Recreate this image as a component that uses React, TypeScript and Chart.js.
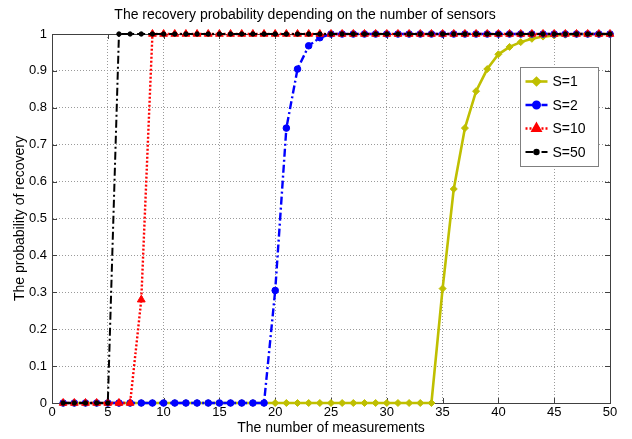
import React, { useEffect, useRef } from 'react';
import { Chart, registerables } from 'chart.js';
import { drawPoint } from 'chart.js/helpers';

Chart.register(...registerables);

const chartTitle = 'The recovery probability depending on the number of sensors';
const xTitle = 'The number of measurements';
const yTitle = 'The probability of recovery';

const measurements = [
  1, 2, 3, 4, 5, 6, 7, 8, 9, 10,
  11, 12, 13, 14, 15, 16, 17, 18, 19, 20,
  21, 22, 23, 24, 25, 26, 27, 28, 29, 30,
  31, 32, 33, 34, 35, 36, 37, 38, 39, 40,
  41, 42, 43, 44, 45, 46, 47, 48, 49, 50,
];

const s1Values = [
  0, 0, 0, 0, 0, 0, 0, 0, 0, 0,
  0, 0, 0, 0, 0, 0, 0, 0, 0, 0,
  0, 0, 0, 0, 0, 0, 0, 0, 0, 0,
  0, 0, 0, 0, 0.31, 0.58, 0.745, 0.845, 0.905, 0.945,
  0.965, 0.978, 0.987, 0.993, 0.996, 0.998, 1, 1, 1, 1,
];

const s2Values = [
  0, 0, 0, 0, 0, 0, 0, 0, 0, 0,
  0, 0, 0, 0, 0, 0, 0, 0, 0, 0.305,
  0.745, 0.905, 0.968, 0.99, 1, 1, 1, 1, 1, 1,
  1, 1, 1, 1, 1, 1, 1, 1, 1, 1,
  1, 1, 1, 1, 1, 1, 1, 1, 1, 1,
];

const s10Values = [
  0, 0, 0, 0, 0, 0, 0, 0.28, 1, 1,
  1, 1, 1, 1, 1, 1, 1, 1, 1, 1,
  1, 1, 1, 1, 1, 1, 1, 1, 1, 1,
  1, 1, 1, 1, 1, 1, 1, 1, 1, 1,
  1, 1, 1, 1, 1, 1, 1, 1, 1, 1,
];

const s50Values = [
  0, 0, 0, 0, 0, 1, 1, 1, 1, 1,
  1, 1, 1, 1, 1, 1, 1, 1, 1, 1,
  1, 1, 1, 1, 1, 1, 1, 1, 1, 1,
  1, 1, 1, 1, 1, 1, 1, 1, 1, 1,
  1, 1, 1, 1, 1, 1, 1, 1, 1, 1,
];

const seriesLabels = ['S=1', 'S=2', 'S=10', 'S=50'];
const xTicks = [0, 5, 10, 15, 20, 25, 30, 35, 40, 45, 50];
const yTicks = [0, 0.1, 0.2, 0.3, 0.4, 0.5, 0.6, 0.7, 0.8, 0.9, 1];

const FONT = "'Liberation Sans', Arial, Helvetica, sans-serif";

type Style = {
  color: string;
  width: number;
  dash: number[];
  pointStyle: string;
  radius: number;
};

const styles: Style[] = [
  { color: '#bfbf00', width: 2.6, dash: [], pointStyle: 'rectRot', radius: 3.5 },
  { color: '#0000ff', width: 2.4, dash: [8, 3, 2, 3], pointStyle: 'circle', radius: 3.3 },
  { color: '#ff0000', width: 2.4, dash: [2, 2], pointStyle: 'triangle', radius: 4.5 },
  { color: '#000000', width: 2, dash: [8, 3, 2, 3], pointStyle: 'circle', radius: 2.2 },
];

const seriesValues = [s1Values, s2Values, s10Values, s50Values];

const framePlugin = {
  id: 'frameAndLegend',
  beforeDatasetsDraw(chart: any) {
    const { ctx, chartArea } = chart;
    const { left, right, top, bottom } = chartArea;
    const xs = chart.scales.x;
    const ys = chart.scales.y;
    ctx.save();
    ctx.strokeStyle = '#404040';
    ctx.lineWidth = 1;
    ctx.setLineDash([]);
    ctx.strokeRect(Math.round(left) + 0.5, Math.round(top) + 0.5, Math.round(right - left), Math.round(bottom - top));
    const tl = 5;
    ctx.beginPath();
    for (const v of xTicks) {
      const px = Math.round(xs.getPixelForValue(v)) + 0.5;
      ctx.moveTo(px, bottom);
      ctx.lineTo(px, bottom - tl);
      ctx.moveTo(px, top);
      ctx.lineTo(px, top + tl);
    }
    for (const v of yTicks) {
      const py = Math.round(ys.getPixelForValue(v)) + 0.5;
      ctx.moveTo(left, py);
      ctx.lineTo(left + tl, py);
      ctx.moveTo(right, py);
      ctx.lineTo(right - tl, py);
    }
    ctx.stroke();
    ctx.restore();
  },
  afterDraw(chart: any) {
    const { ctx, chartArea } = chart;
    const boxW = 78;
    const boxH = 99;
    const bx = Math.round(chartArea.right - 12 - boxW) + 0.5;
    const by = Math.round(chartArea.top + 33) + 0.5;
    ctx.save();
    ctx.fillStyle = '#ffffff';
    ctx.fillRect(bx, by, boxW, boxH);
    ctx.strokeStyle = '#7f7f7f';
    ctx.lineWidth = 1;
    ctx.setLineDash([]);
    ctx.strokeRect(bx, by, boxW, boxH);
    ctx.font = `14px ${FONT}`;
    ctx.textBaseline = 'middle';
    ctx.textAlign = 'left';
    seriesLabels.forEach((label, i) => {
      const st = styles[i];
      const cy = by + 14 + i * 23.5;
      const x0 = bx + 5;
      const x1 = bx + 27;
      ctx.strokeStyle = st.color;
      ctx.lineWidth = st.width;
      ctx.setLineDash(st.dash);
      ctx.beginPath();
      ctx.moveTo(x0, cy);
      ctx.lineTo(x1, cy);
      ctx.stroke();
      ctx.setLineDash([]);
      ctx.fillStyle = st.color;
      drawPoint(ctx, {
        pointStyle: st.pointStyle,
        radius: st.radius,
        rotation: 0,
        borderWidth: 1,
      } as any, (x0 + x1) / 2, cy);
      ctx.fillStyle = '#000000';
      ctx.fillText(label, bx + 32, cy + 1);
    });
    ctx.restore();
  },
};

export default function App() {
  const canvasRef = useRef<HTMLCanvasElement | null>(null);

  useEffect(() => {
    const canvas = canvasRef.current;
    if (!canvas) return;
    Chart.defaults.font.family = FONT;
    Chart.defaults.color = '#000000';

    const order = [4, 3, 2, 1];
    const datasets = seriesLabels.map((label, i) => {
      const st = styles[i];
      return {
        label,
        data: measurements.map((m, j) => ({ x: m, y: seriesValues[i][j] })),
        borderColor: st.color,
        backgroundColor: st.color,
        borderWidth: st.width,
        borderDash: st.dash,
        pointStyle: st.pointStyle,
        pointRadius: st.radius,
        pointBorderWidth: 1,
        pointBorderColor: st.color,
        pointBackgroundColor: st.color,
        tension: 0,
        clip: false,
        order: order[i],
      };
    });

    const chart = new Chart(canvas, {
      type: 'line',
      data: { datasets: datasets as any },
      options: {
        responsive: false,
        animation: false,
        events: [],
        layout: { padding: { left: 0, right: 22, top: 0, bottom: 0 } },
        plugins: {
          legend: { display: false },
          tooltip: { enabled: false },
          title: {
            display: true,
            text: chartTitle,
            color: '#000000',
            font: { family: FONT, size: 14, weight: 'normal' },
            padding: { top: 7, bottom: 10.2 },
          },
        },
        scales: {
          x: {
            type: 'linear',
            min: 0,
            max: 50,
            afterBuildTicks: (scale: any) => {
              scale.ticks = xTicks.map((v) => ({ value: v }));
            },
            afterFit: (scale: any) => {
              scale.height = 36;
            },
            ticks: {
              autoSkip: false,
              maxRotation: 0,
              padding: 2,
              color: '#000000',
              font: { family: FONT, size: 13 },
              callback: (v: any) => String(v),
            },
            grid: {
              color: '#9a9a9a',
              lineWidth: 1,
              drawTicks: false,
            },
            border: { display: true, color: '#404040', width: 1, dash: [1, 2] },
            title: {
              display: true,
              text: xTitle,
              color: '#000000',
              font: { family: FONT, size: 14 },
              padding: { top: 0, bottom: 2.5 },
            },
          },
          y: {
            type: 'linear',
            min: 0,
            max: 1,
            afterBuildTicks: (scale: any) => {
              scale.ticks = yTicks.map((v) => ({ value: v }));
            },
            afterFit: (scale: any) => {
              scale.width = 52;
            },
            ticks: {
              autoSkip: false,
              padding: 5,
              color: '#000000',
              font: { family: FONT, size: 13 },
              callback: (v: any) => String(v),
            },
            grid: {
              color: '#9a9a9a',
              lineWidth: 1,
              drawTicks: false,
            },
            border: { display: true, color: '#404040', width: 1, dash: [1, 2] },
            title: {
              display: true,
              text: yTitle,
              color: '#000000',
              font: { family: FONT, size: 14 },
              padding: { top: 11.5, bottom: 0 },
            },
          },
        },
      },
      plugins: [framePlugin],
    });

    return () => {
      chart.destroy();
    };
  }, []);

  return (
    <div style={{ position: 'fixed', left: 0, top: 0, width: 632, height: 439, background: '#ffffff' }}>
      <canvas ref={canvasRef} width={632} height={439} style={{ display: 'block' }} />
    </div>
  );
}
